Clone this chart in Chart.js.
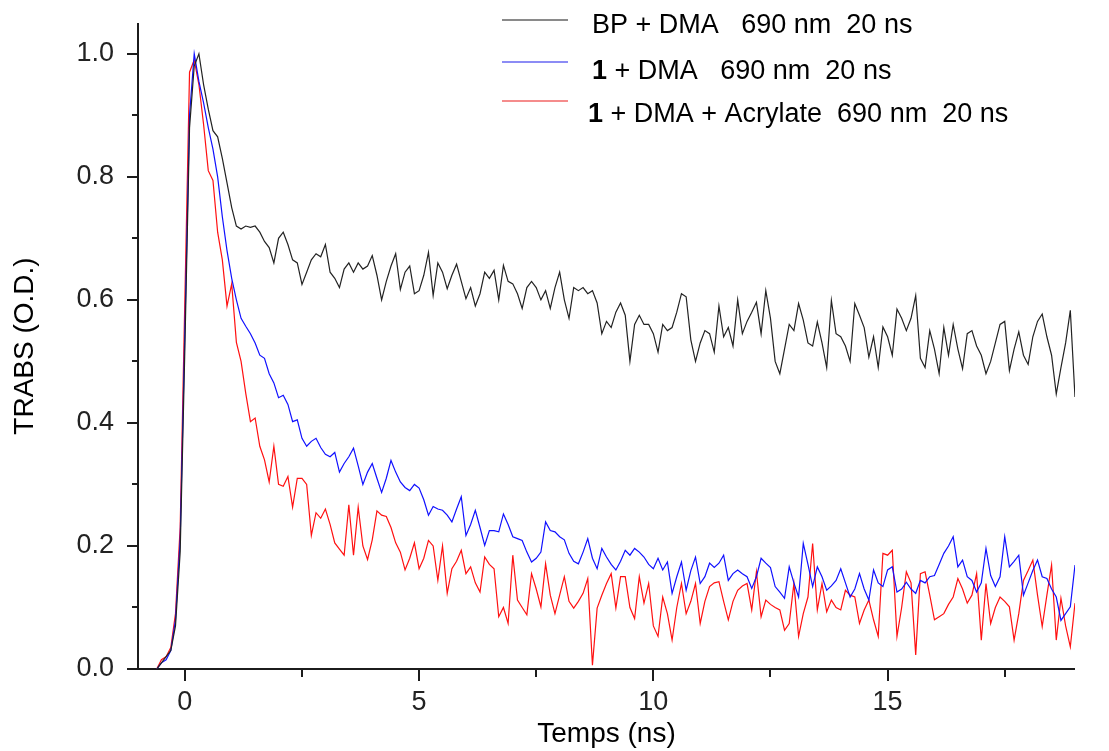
<!DOCTYPE html>
<html><head><meta charset="utf-8">
<script src="https://cdn.jsdelivr.net/npm/chart.js@4.4.1/dist/chart.umd.min.js"></script>
<style>html,body{margin:0;padding:0;background:#fff;}#wrap{width:1109px;height:751px;}</style>
</head><body><div id="wrap"><canvas id="c" width="1109" height="751"></canvas></div>
<script>
// Sampling grid of the transient (ns)
const T_START = -0.6, T_STEP = 0.1;

// BP + DMA 690 nm 20 ns
const bpDMA = [
0.00,0.01,0.02,0.03,0.07,0.19,0.52,0.88,0.98,1.00,
0.95,0.91,0.875,0.865,0.83,0.79,0.75,0.72,0.715,0.72,
0.718,0.72,0.71,0.695,0.685,0.66,0.70,0.71,0.69,0.665,
0.66,0.625,0.645,0.665,0.675,0.67,0.69,0.645,0.635,0.62,
0.65,0.66,0.645,0.66,0.65,0.655,0.672,0.64,0.60,0.63,
0.655,0.675,0.617,0.645,0.655,0.61,0.615,0.64,0.677,0.607,
0.66,0.645,0.618,0.64,0.658,0.63,0.602,0.62,0.59,0.61,
0.645,0.635,0.648,0.60,0.656,0.63,0.626,0.61,0.586,0.62,
0.63,0.62,0.60,0.615,0.586,0.62,0.645,0.60,0.57,0.62,
0.615,0.62,0.61,0.615,0.595,0.545,0.565,0.555,0.58,0.595,
0.575,0.50,0.56,0.575,0.56,0.56,0.545,0.515,0.56,0.55,
0.555,0.58,0.61,0.605,0.535,0.50,0.53,0.55,0.545,0.515,
0.59,0.54,0.555,0.525,0.60,0.545,0.565,0.58,0.596,0.545,
0.615,0.57,0.50,0.48,0.52,0.56,0.55,0.594,0.567,0.53,
0.525,0.564,0.53,0.49,0.599,0.545,0.54,0.525,0.50,0.594,
0.575,0.555,0.507,0.54,0.49,0.556,0.54,0.51,0.585,0.57,
0.55,0.57,0.607,0.505,0.49,0.55,0.52,0.48,0.555,0.51,
0.56,0.52,0.488,0.545,0.55,0.525,0.51,0.48,0.50,0.53,
0.56,0.565,0.485,0.52,0.548,0.51,0.495,0.54,0.565,0.577,
0.54,0.51,0.447,0.49,0.53,0.583,0.442
];

// 1 + DMA 690 nm 20 ns
const oneDMA = [
0.00,0.01,0.015,0.03,0.08,0.21,0.55,0.90,1.00,0.955,
0.92,0.88,0.845,0.80,0.735,0.68,0.635,0.60,0.57,0.557,
0.545,0.53,0.51,0.505,0.48,0.465,0.441,0.445,0.43,0.402,
0.405,0.375,0.362,0.37,0.375,0.36,0.349,0.345,0.352,0.32,
0.334,0.345,0.359,0.33,0.30,0.32,0.334,0.31,0.287,0.31,
0.339,0.32,0.304,0.295,0.29,0.30,0.294,0.275,0.25,0.264,
0.26,0.258,0.25,0.239,0.26,0.28,0.217,0.235,0.258,0.23,
0.201,0.225,0.225,0.223,0.252,0.235,0.215,0.212,0.209,0.19,
0.174,0.18,0.19,0.239,0.225,0.223,0.215,0.21,0.188,0.175,
0.171,0.19,0.212,0.18,0.163,0.196,0.182,0.17,0.161,0.175,
0.193,0.185,0.196,0.19,0.182,0.17,0.163,0.18,0.161,0.174,
0.123,0.15,0.174,0.128,0.16,0.182,0.139,0.15,0.172,0.165,
0.172,0.185,0.144,0.155,0.161,0.155,0.15,0.131,0.15,0.18,
0.172,0.165,0.134,0.125,0.115,0.166,0.14,0.117,0.204,0.17,
0.134,0.166,0.15,0.128,0.135,0.144,0.163,0.14,0.117,0.13,
0.155,0.13,0.112,0.161,0.14,0.134,0.161,0.166,0.125,0.13,
0.141,0.13,0.123,0.144,0.14,0.15,0.152,0.17,0.188,0.20,
0.215,0.166,0.177,0.15,0.144,0.125,0.14,0.196,0.152,0.134,
0.15,0.215,0.166,0.175,0.185,0.12,0.14,0.16,0.177,0.15,
0.147,0.13,0.117,0.079,0.09,0.101,0.169
];

// 1 + DMA + Acrylate 690 nm 20 ns
const oneDMAacr = [
0.00,0.015,0.02,0.035,0.09,0.23,0.60,0.97,0.99,0.95,
0.885,0.81,0.794,0.71,0.665,0.59,0.626,0.531,0.50,0.448,
0.402,0.408,0.362,0.34,0.304,0.362,0.30,0.297,0.313,0.263,
0.31,0.31,0.30,0.217,0.254,0.245,0.26,0.235,0.205,0.195,
0.185,0.267,0.185,0.263,0.20,0.178,0.21,0.257,0.25,0.248,
0.23,0.205,0.19,0.161,0.18,0.205,0.163,0.18,0.209,0.20,
0.144,0.20,0.123,0.163,0.175,0.193,0.155,0.166,0.14,0.125,
0.182,0.17,0.163,0.085,0.10,0.074,0.185,0.112,0.10,0.088,
0.155,0.13,0.101,0.171,0.12,0.09,0.12,0.15,0.11,0.099,
0.11,0.123,0.147,0.006,0.099,0.12,0.139,0.155,0.099,0.15,
0.15,0.10,0.082,0.15,0.107,0.139,0.07,0.053,0.117,0.09,
0.047,0.10,0.139,0.09,0.11,0.139,0.074,0.11,0.134,0.14,
0.142,0.11,0.08,0.11,0.128,0.135,0.139,0.096,0.158,0.085,
0.112,0.105,0.10,0.096,0.063,0.074,0.139,0.053,0.09,0.117,
0.204,0.096,0.139,0.093,0.112,0.10,0.096,0.128,0.12,0.117,
0.074,0.096,0.112,0.08,0.053,0.188,0.185,0.193,0.053,0.10,
0.158,0.14,0.023,0.155,0.158,0.12,0.08,0.085,0.09,0.105,
0.117,0.147,0.13,0.107,0.12,0.155,0.047,0.139,0.074,0.10,
0.117,0.11,0.101,0.047,0.09,0.144,0.16,0.177,0.12,0.069,
0.12,0.169,0.047,0.115,0.07,0.036,0.107
];

const seriesColors = ['#222222', '#1010ff', '#ff1010'];
const legendColors = ['#8a8a8a', '#8c8cf5', '#f58c8c'];
const legendLabels = [
  [{t:'BP + DMA   690 nm  20 ns', b:false}],
  [{t:'1', b:true}, {t:' + DMA   690 nm  20 ns', b:false}],
  [{t:'1', b:true}, {t:' + DMA + Acrylate  690 nm  20 ns', b:false}]
];
const xMajorTicks = [0, 5, 10, 15];
const xMinorTicks = [2.5, 7.5, 12.5, 17.5];
const yMajorTicks = [0, 0.2, 0.4, 0.6, 0.8, 1.0];
const yMinorTicks = [0.1, 0.3, 0.5, 0.7, 0.9];
const xTitle = 'Temps (ns)';
const yTitle = 'TRABS (O.D.)';

function toPoints(arr) { return arr.map((v, i) => ({x: T_START + i * T_STEP, y: v})); }

const axesPlugin = {
  id: 'axesTicks',
  beforeDatasetsDraw(chart) {
    const ctx = chart.ctx, a = chart.chartArea;
    const xs = chart.scales.x, ys = chart.scales.y;
    ctx.save();
    ctx.strokeStyle = '#1c1c1c';
    ctx.lineWidth = 2;
    ctx.beginPath();
    ctx.moveTo(a.left, a.top); ctx.lineTo(a.left, a.bottom + 1);
    ctx.moveTo(a.left - 11, a.bottom); ctx.lineTo(a.right, a.bottom);
    xMajorTicks.forEach(v => { const p = Math.round(xs.getPixelForValue(v)); ctx.moveTo(p, a.bottom); ctx.lineTo(p, a.bottom + 12); });
    xMinorTicks.forEach(v => { const p = Math.round(xs.getPixelForValue(v)); ctx.moveTo(p, a.bottom); ctx.lineTo(p, a.bottom + 8); });
    yMajorTicks.forEach(v => { const p = Math.round(ys.getPixelForValue(v)); ctx.moveTo(a.left, p); ctx.lineTo(a.left - 11, p); });
    yMinorTicks.forEach(v => { const p = Math.round(ys.getPixelForValue(v)); ctx.moveTo(a.left, p); ctx.lineTo(a.left - 6, p); });
    ctx.stroke();
    ctx.restore();
  }
};

const legendPlugin = {
  id: 'customLegend',
  afterDraw(chart) {
    const ctx = chart.ctx;
    const rows = [{ly: 20, ty: 26, tx: 592}, {ly: 62, ty: 72, tx: 592}, {ly: 101, ty: 115, tx: 588}];
    ctx.save();
    rows.forEach((r, i) => {
      ctx.strokeStyle = legendColors[i];
      ctx.lineWidth = 2;
      ctx.beginPath(); ctx.moveTo(502, r.ly); ctx.lineTo(568, r.ly); ctx.stroke();
      let x = r.tx;
      ctx.fillStyle = '#000';
      ctx.textBaseline = 'middle';
      ctx.textAlign = 'left';
      legendLabels[i].forEach(part => {
        ctx.font = (part.b ? 'bold ' : '') + '27px "Liberation Sans", Arial, sans-serif';
        ctx.fillText(part.t, x, r.ty);
        x += ctx.measureText(part.t).width;
      });
    });
    ctx.restore();
  }
};

const names = legendLabels.map(p => p.map(q => q.t).join(''));

new Chart(document.getElementById('c'), {
  type: 'line',
  data: {
    datasets: [
      {label: names[0], data: toPoints(bpDMA), borderColor: seriesColors[0]},
      {label: names[1], data: toPoints(oneDMA), borderColor: seriesColors[1]},
      {label: names[2], data: toPoints(oneDMAacr), borderColor: seriesColors[2]}
    ].map(d => Object.assign(d, {borderWidth: 1.2, pointRadius: 0, tension: 0, fill: false}))
  },
  options: {
    responsive: false,
    devicePixelRatio: 1,
    animation: false,
    layout: {padding: {top: 23, right: 34, left: 0, bottom: 0}},
    plugins: {legend: {display: false}, tooltip: {enabled: false}},
    scales: {
      x: {
        type: 'linear', min: -1, max: 19,
        afterBuildTicks: s => { s.ticks = xMajorTicks.map(v => ({value: v})); },
        afterFit: s => { s.height = 82; s.paddingLeft = 0; s.paddingRight = 0; },
        grid: {display: false, drawTicks: false},
        border: {display: false},
        ticks: {padding: 17, color: '#222', font: {family: '"Liberation Sans", Arial, sans-serif', size: 27}, callback: v => String(v)},
        title: {display: true, text: xTitle, color: '#000', padding: {top: 0, bottom: 0}, font: {family: '"Liberation Sans", Arial, sans-serif', size: 28}}
      },
      y: {
        type: 'linear', min: 0, max: 1.05,
        afterBuildTicks: s => { s.ticks = yMajorTicks.map(v => ({value: v})); },
        afterFit: s => { s.width = 138; s.paddingTop = 0; s.paddingBottom = 0; },
        grid: {display: false, drawTicks: false},
        border: {display: false},
        ticks: {padding: 24, color: '#222', font: {family: '"Liberation Sans", Arial, sans-serif', size: 27}, callback: v => Number(v).toFixed(1)},
        title: {display: true, text: yTitle, color: '#000', padding: {top: 8, bottom: 0}, font: {family: '"Liberation Sans", Arial, sans-serif', size: 28}}
      }
    }
  },
  plugins: [axesPlugin, legendPlugin]
});
</script>
</body></html>
